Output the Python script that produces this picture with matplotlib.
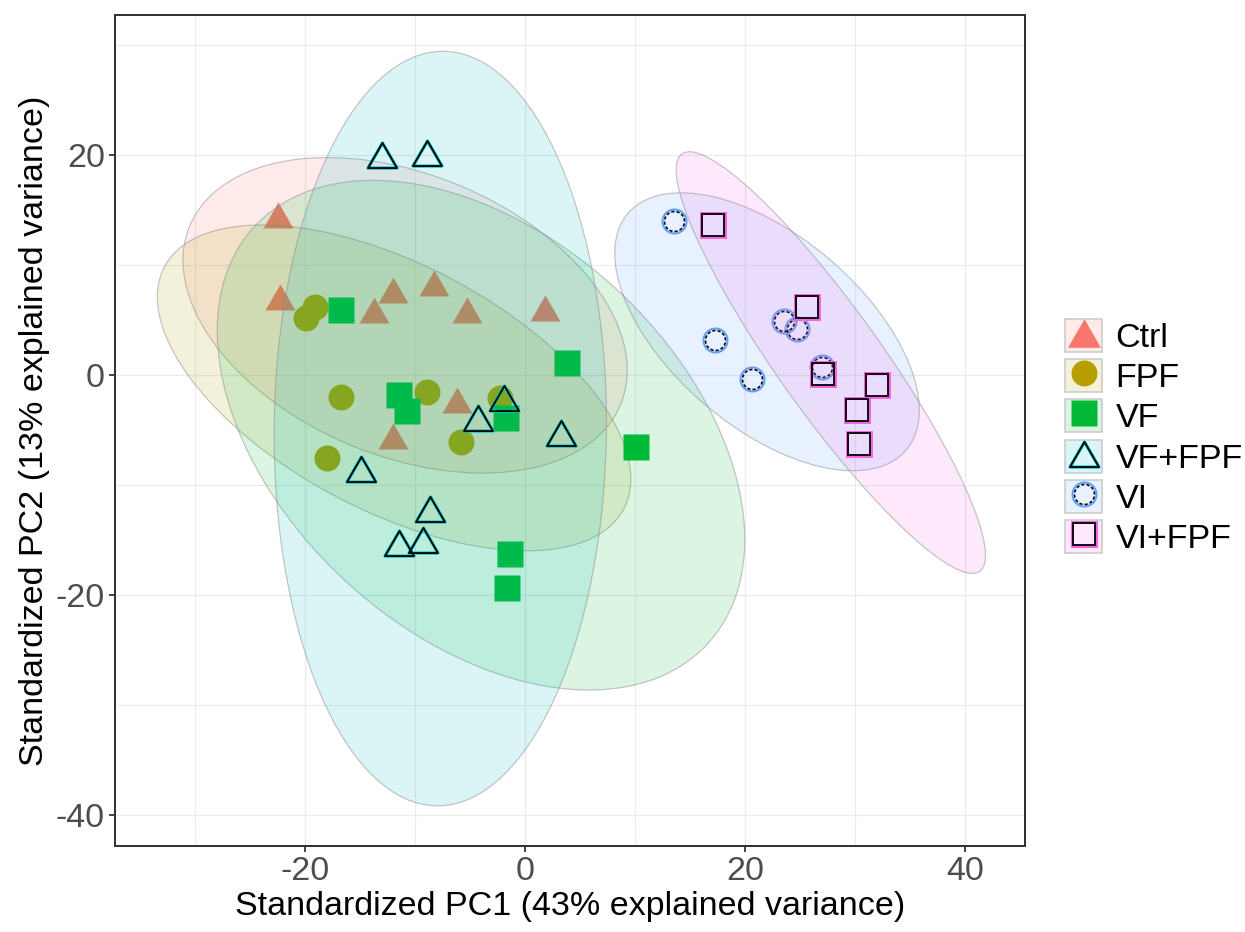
import numpy as np
import matplotlib
matplotlib.use("Agg")
import matplotlib.pyplot as plt
from matplotlib.patches import Ellipse, Patch
from matplotlib.lines import Line2D
from matplotlib.path import Path
from matplotlib.legend_handler import HandlerTuple

plt.rcParams['font.family'] = ['Liberation Sans', 'DejaVu Sans']
plt.rcParams['axes.unicode_minus'] = False

# ---- data -------------------------------------------------------------
groups = ["Ctrl", "FPF", "VF", "VF+FPF", "VI", "VI+FPF"]
colors = ["#F8766D", "#B79F00", "#00BA38", "#00BFC4", "#619CFF", "#F564E3"]

ctrl_x = [-22.45, -22.3, -12.0, -8.3, -13.7, -5.3, 1.8, -6.2, -12.0]
ctrl_y = [14.5, 7.06, 7.7, 8.3, 5.9, 5.9, 6.1, -2.3, -5.6]

fpf_x = [-19.1, -19.9, -16.7, -8.9, -18.0, -5.85, -2.27]
fpf_y = [6.15, 5.15, -2.0, -1.6, -7.6, -6.15, -2.15]

vf_x = [-16.7, -11.45, -10.7, 3.85, -1.7, 10.05, -1.33, -1.64]
vf_y = [5.85, -1.85, -3.3, 1.04, -3.9, -6.55, -16.3, -19.4]

vffpf_x = [-1.9, -4.25, 3.3, -14.9, -8.6, -9.3, -11.45, -13.0, -8.9]
vffpf_y = [-2.1, -3.9, -5.3, -8.55, -12.2, -15.0, -15.3, 19.97, 20.15]

vi_x = [13.55, 17.27, 20.6, 23.5, 24.76, 26.97]
vi_y = [13.97, 3.15, -0.39, 4.88, 4.12, 0.73]

vifpf_x = [17.06, 25.6, 27.06, 31.97, 30.15, 30.4]
vifpf_y = [13.58, 6.12, 0.03, -0.97, -3.2, -6.3]

# confidence ellipses: centre, semi-axes, rotation (degrees)
ell_cx = [-10.9, -11.9, -4.0, -7.7, 22.0, 27.8]
ell_cy = [5.4, -1.2, -5.5, -4.9, 3.9, 1.1]
ell_a = [21.2, 23.6, 28.0, 34.3, 16.6, 23.3]
ell_b = [12.8, 11.2, 18.1, 15.1, 8.7, 4.7]
ell_angle = [-22.5, -27.8, -42.6, 89.5, -40.4, -54.5]

xticks = [-20, 0, 20, 40]
yticks = [-40, -20, 0, 20]
xlabel = "Standardized PC1 (43% explained variance)"
ylabel = "Standardized PC2 (13% explained variance)"

FILL_ALPHA = 0.14

# ---- marker shapes ----------------------------------------------------
PX = 72.0 / 100.0  # points per pixel at dpi 100
tri_path = Path([(0, 0.433), (-0.5, -0.433), (0.5, -0.433), (0, 0.433)],
                [Path.MOVETO, Path.LINETO, Path.LINETO, Path.CLOSEPOLY])

def dashed_ring(n=12, frac=0.62, m=6):
    verts, codes = [], []
    for k in range(n):
        t0 = 2 * np.pi * k / n
        ts = np.linspace(t0, t0 + frac * 2 * np.pi / n, m)
        for i, t in enumerate(ts):
            verts.append((np.cos(t), np.sin(t)))
            codes.append(Path.MOVETO if i == 0 else Path.LINETO)
    return Path(verts, codes)

ring_path = dashed_ring()

def marker_lines(i, x, y, big=False):
    """Line2D objects that make up the marker of group i."""
    c = colors[i]
    k = dict(ls='none')
    if i == 0:
        return [Line2D(x, y, marker=tri_path, ms=(33 if big else 30) * PX, mfc=c, mec='none', **k)]
    if i == 1:
        return [Line2D(x, y, marker='o', ms=26 * PX, mfc=c, mec='none', **k)]
    if i == 2:
        return [Line2D(x, y, marker='s', ms=26 * PX, mfc=c, mec='none', **k)]
    if i == 3:
        return [Line2D(x, y, marker=tri_path, ms=29 * PX, mfc='none', mec=c, mew=3.2 * PX, **k),
                Line2D(x, y, marker=tri_path, ms=29 * PX, mfc='none', mec='black', mew=1.8 * PX, **k)]
    if i == 4:
        return [Line2D(x, y, marker='o', ms=24 * PX, mfc='none', mec=c, mew=2.0 * PX, **k),
                Line2D(x, y, marker=ring_path, ms=20 * PX, mfc='none', mec='black', mew=1.6 * PX, **k)]
    return [Line2D(x, y, marker='s', ms=24 * PX, mfc='none', mec=c, mew=3.0 * PX, **k),
            Line2D(x, y, marker='s', ms=21.5 * PX, mfc='none', mec='black', mew=1.8 * PX, **k)]

# ---- figure -----------------------------------------------------------
fig = plt.figure(figsize=(12.45, 9.32), dpi=100)
ax = fig.add_axes([115 / 1245, 1 - 845.5 / 932, 910 / 1245, 830.2 / 932])

ax.set_xlim(-37.27, 45.45)
ax.set_ylim(-42.8, 32.67)

ax.set_xticks(xticks)
ax.set_yticks(yticks)
ax.set_xticks([-30, -10, 10, 30], minor=True)
ax.set_yticks([-30, -10, 10, 30], minor=True)
ax.grid(True, which='major', color='#EBEBEB', lw=1.4 * PX, zorder=0)
ax.grid(True, which='minor', color='#EBEBEB', lw=1.1 * PX, zorder=0)
ax.set_axisbelow(True)
ax.tick_params(which='minor', length=0)
ax.tick_params(which='major', length=6 * PX, width=1.8 * PX, color='#333333',
               labelsize=24.5, labelcolor='#4D4D4D', pad=4 * PX)
for s in ax.spines.values():
    s.set_color('#333333')
    s.set_linewidth(2.0 * PX)

all_x = [ctrl_x, fpf_x, vf_x, vffpf_x, vi_x, vifpf_x]
all_y = [ctrl_y, fpf_y, vf_y, vffpf_y, vi_y, vifpf_y]

# each group: translucent ellipse, then its points; later groups lie on top
for i in range(len(groups)):
    z = 2 + i
    e = Ellipse((ell_cx[i], ell_cy[i]), 2 * ell_a[i], 2 * ell_b[i], angle=ell_angle[i],
                facecolor=matplotlib.colors.to_rgba(colors[i], FILL_ALPHA),
                edgecolor='none', zorder=z)
    ax.add_patch(e)
    outline = Ellipse((ell_cx[i], ell_cy[i]), 2 * ell_a[i], 2 * ell_b[i], angle=ell_angle[i],
                      facecolor='none', edgecolor=(0.55, 0.55, 0.55, 0.5),
                      lw=1.2 * PX, zorder=z + 0.1)
    ax.add_patch(outline)
    for ln in marker_lines(i, all_x[i], all_y[i]):
        ln.set_zorder(z + 0.5)
        ax.add_line(ln)

ax.set_xlabel(xlabel, fontsize=24.5, color='black', labelpad=3)
ax.set_ylabel(ylabel, fontsize=24.5, color='black', labelpad=4)

# ---- legend -----------------------------------------------------------
def legend_handle(i):
    key = Patch(facecolor=matplotlib.colors.to_rgba(colors[i], FILL_ALPHA),
                edgecolor='#C8C8C8', lw=1.5 * PX)
    return tuple([key] + marker_lines(i, [], [], big=True))

handles = [legend_handle(i) for i in range(len(groups))]
leg = fig.legend(handles, groups, loc='center left',
                 bbox_to_anchor=(1065 / 1245, 1 - 437 / 932),
                 bbox_transform=fig.transFigure, frameon=False,
                 fontsize=24.5, handlelength=1.09, handleheight=1.12,
                 handletextpad=0.4, labelspacing=0.15, borderpad=0, borderaxespad=0,
                 handler_map={tuple: HandlerTuple(ndivide=1, pad=0)})

fig.savefig("out.png", dpi=100)
